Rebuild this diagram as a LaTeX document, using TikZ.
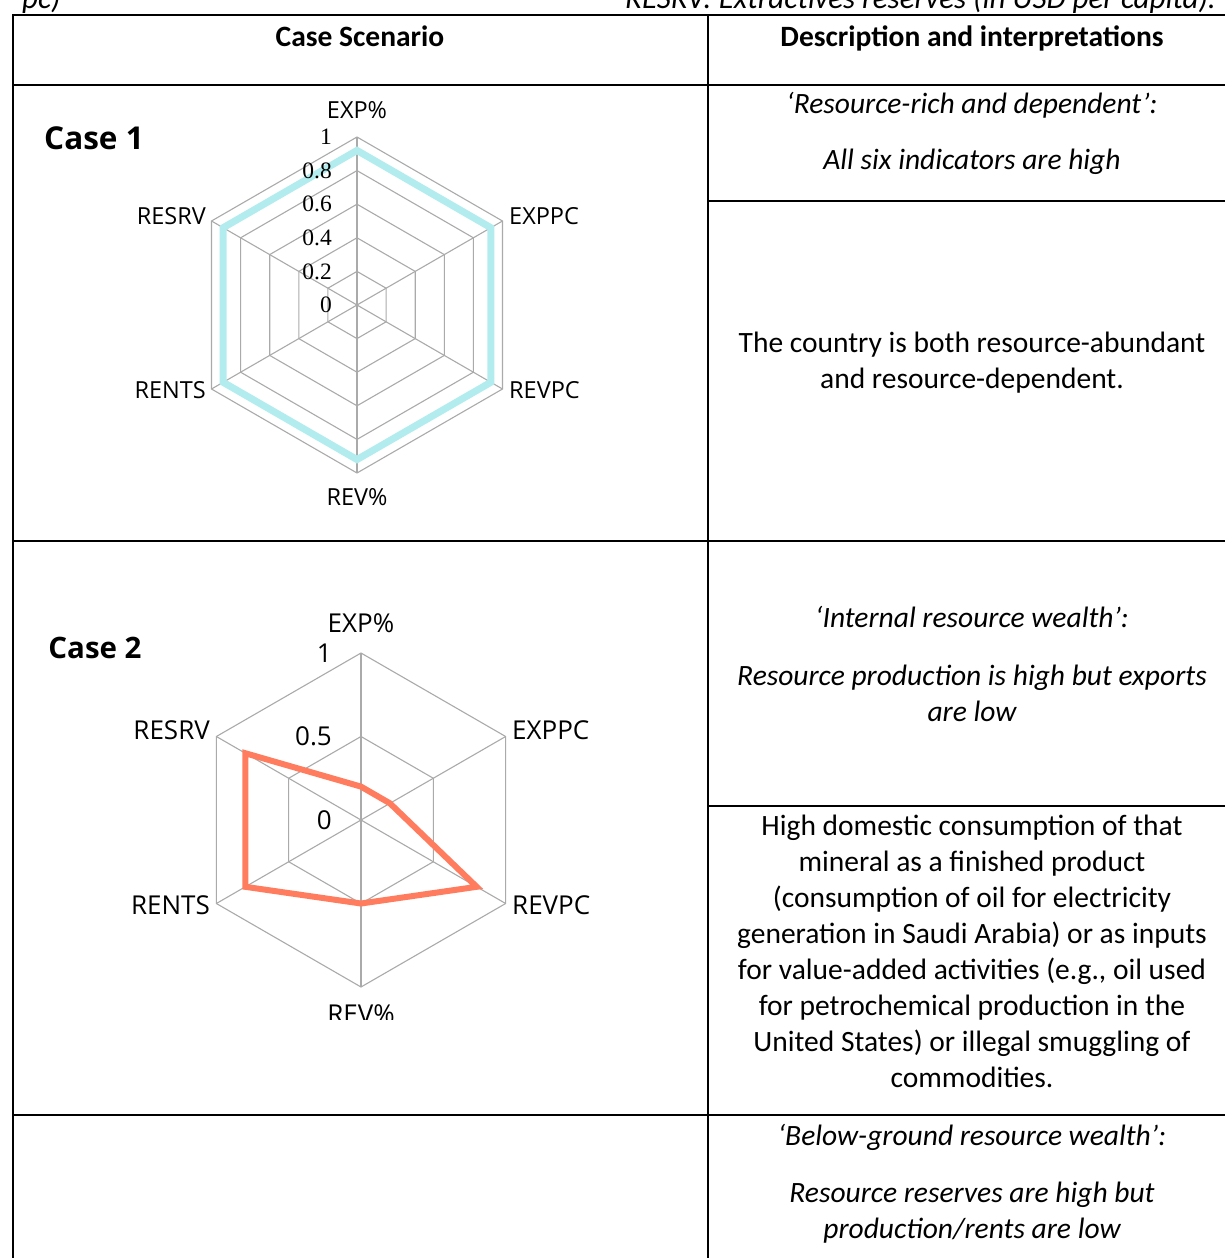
\documentclass[tikz,border=0pt]{standalone}
\usepackage{fontspec}
\setmainfont{Carlito}
\newfontfamily\chartfont{Open Sans}
\newfontfamily\numfont{Liberation Serif}

\definecolor{gridgray}{RGB}{170,170,170}
\definecolor{caseonecyan}{RGB}{178,236,238}
\definecolor{casetwoorange}{RGB}{255,124,94}

\tikzset{
  rule/.style={line width=2.2pt, black},
  body/.style={font=\fontsize{29.5}{36}\selectfont, align=center, inner sep=0pt},
  bodyit/.style={body, font=\itshape\fontsize{29.5}{36}\selectfont},
  hdr/.style={font=\bfseries\fontsize{29.5}{36}\selectfont, inner sep=0pt, anchor=base},
  casetitle/.style={font=\chartfont\bfseries\fontsize{31.5}{36}\selectfont, inner sep=0pt},
  casetitlesmall/.style={font=\chartfont\bfseries\fontsize{29.5}{36}\selectfont, inner sep=0pt},
  gridline/.style={draw=gridgray, line width=1.1pt},
  axlabone/.style={font=\chartfont\fontsize{23.5}{24}\selectfont, inner sep=0pt},
  axlabtwo/.style={font=\chartfont\fontsize{26}{26}\selectfont, inner sep=0pt},
  ticklabone/.style={font=\numfont\fontsize{23.5}{24}\selectfont, inner sep=0pt, anchor=east},
  ticklabtwo/.style={font=\chartfont\fontsize{26}{26}\selectfont, inner sep=0pt, anchor=east},
  dataone/.style={draw=caseonecyan, line width=7pt, line join=miter},
  datatwo/.style={draw=casetwoorange, line width=6pt, line join=miter},
}

\begin{document}
\begin{tikzpicture}[x=1pt,y=-1pt]
\useasboundingbox (0,0) rectangle (1225,1258);
\clip (0,0) rectangle (1225,1258);

% running text above the table
\node[font=\itshape\fontsize{31}{36}\selectfont, inner sep=0pt, anchor=base west] (noteleft) at (22,8.5) {pc)};
\node[font=\itshape\fontsize{31}{36}\selectfont, inner sep=0pt, anchor=base east] (noteright) at (1216,8.5) {RESRV: Extractives reserves (in USD per capita).};

% table rules
\draw[rule] (13,15) -- (1240,15);
\draw[rule] (13,85) -- (1240,85);
\draw[rule] (13,541) -- (1240,541);
\draw[rule] (13,1115) -- (1240,1115);
\draw[rule] (708,201) -- (1240,201);
\draw[rule] (708,806) -- (1240,806);
\draw[rule] (13,14) -- (13,1270);
\draw[rule] (708,14) -- (708,1270);

% header
\node[hdr] (hcase) at (360,46) {Case Scenario};
\node[hdr] (hdesc) at (972,46) {Description and interpretations};

% ---------- Case 1 ----------
\node[casetitle] (c1title) at (94,138) {Case 1};
\begin{scope}[shift={(357,305)}]
  \foreach \r in {0.2,0.4,0.6,0.8,1.0}
    \draw[gridline] (-90:{168*\r}) -- (-30:{168*\r}) -- (30:{168*\r}) -- (90:{168*\r}) -- (150:{168*\r}) -- (210:{168*\r}) -- cycle;
  \foreach \a in {-90,-30,30,90,150,210}
    \draw[gridline] (0,0) -- (\a:168);
  \draw[dataone] (-90:{168*0.92}) -- (-30:{168*0.92}) -- (30:{168*0.92}) -- (90:{168*0.92}) -- (150:{168*0.92}) -- (210:{168*0.92}) -- cycle;
  \foreach \v/\t [count=\i] in {1/1,0.8/0.8,0.6/0.6,0.4/0.4,0.2/0.2,0/0}
    \node[ticklabone] (c1tick\i) at (-25,{-168*\v}) {\t};
\end{scope}
\node[axlabone] (c1exp) at (357,110) {EXP\%};
\node[axlabone, anchor=west] (c1exppc) at (509,216) {EXPPC};
\node[axlabone, anchor=west] (c1revpc) at (509,390) {REVPC};
\node[axlabone] (c1rev) at (357,497) {REV\%};
\node[axlabone, anchor=east] (c1rents) at (206,390) {RENTS};
\node[axlabone, anchor=east] (c1resrv) at (206,216) {RESRV};

\node[bodyit] (d1a) at (972,105) {‘Resource-rich and dependent’:};
\node[bodyit] (d1b) at (972,162) {All six indicators are high};
\node[body] (d1c) at (972,363) {The country is both resource-abundant\\and resource-dependent.};

% ---------- Case 2 ----------
\node[casetitlesmall] (c2title) at (95,648) {Case 2};
\begin{scope}
  \clip (15,543) rectangle (706,1019.5);
  \begin{scope}[shift={(361,820)}]
    \foreach \r in {0.5,1.0}
      \draw[gridline] (-90:{167*\r}) -- (-30:{167*\r}) -- (30:{167*\r}) -- (90:{167*\r}) -- (150:{167*\r}) -- (210:{167*\r}) -- cycle;
    \foreach \a in {-90,-30,30,90,150,210}
      \draw[gridline] (0,0) -- (\a:167);
    \draw[datatwo] (-90:{167*0.2}) -- (-30:{167*0.2}) -- (30:{167*0.8}) -- (90:{167*0.5}) -- (150:{167*0.8}) -- (210:{167*0.8}) -- cycle;
    \foreach \v/\t [count=\i] in {1/1,0.5/0.5,0/0}
      \node[ticklabtwo] (c2tick\i) at (-29,{-167*\v}) {\t};
  \end{scope}
  \node[axlabtwo, anchor=base] (c2rev) at (361,1023) {REV\%};
\end{scope}
\node[axlabtwo] (c2exp) at (361,623) {EXP\%};
\node[axlabtwo, anchor=west] (c2exppc) at (512,730) {EXPPC};
\node[axlabtwo, anchor=west] (c2revpc) at (512,905) {REVPC};
\node[axlabtwo, anchor=east] (c2rents) at (210,905) {RENTS};
\node[axlabtwo, anchor=east] (c2resrv) at (210,730) {RESRV};

\node[bodyit] (d2a) at (972,617) {‘Internal resource wealth’:};
\node[bodyit] (d2b) at (972,693) {Resource production is high but exports\\are low};
\node[body] (d2c) at (972,951.5) {High domestic consumption of that\\mineral as a finished product\\(consumption of oil for electricity\\generation in Saudi Arabia) or as inputs\\for value-added activities (e.g., oil used\\for petrochemical production in the\\United States) or illegal smuggling of\\commodities.};

% ---------- Case 3 ----------
\node[bodyit] (d3a) at (972,1137) {‘Below-ground resource wealth’:};
\node[bodyit] (d3b) at (972,1213) {Resource reserves are high but\\production/rents are low};
\end{tikzpicture}
\end{document}
